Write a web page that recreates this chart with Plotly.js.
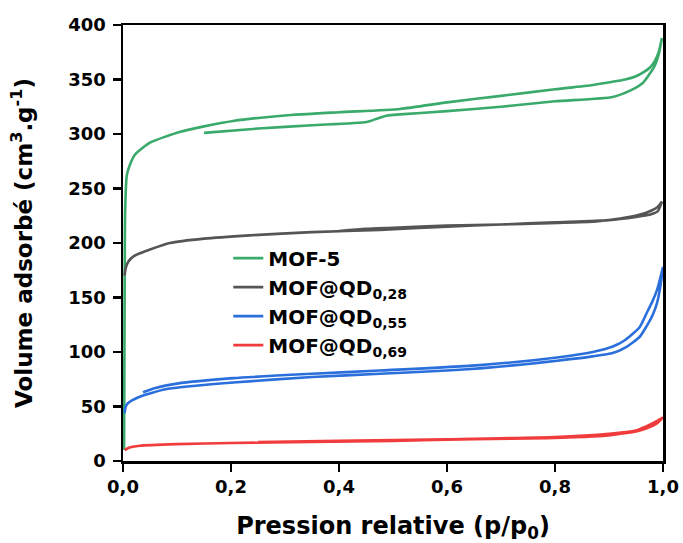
<!DOCTYPE html>
<html>
<head>
<meta charset="utf-8">
<script src="https://cdn.plot.ly/plotly-3.0.1.min.js"></script>
<style>html,body{margin:0;padding:0;background:#fff;}#chart{width:683px;height:543px;}</style>
</head>
<body>
<div id="chart"></div>
<script>
// Series names
const seriesNames = ["MOF-5", "MOF@QD<sub>0,28</sub>", "MOF@QD<sub>0,55</sub>", "MOF@QD<sub>0,69</sub>"];
const seriesColors = ["#3aaa6b", "#555555", "#2a6fdc", "#f03c3c"];

// MOF-5: adsorption (upper) then desorption (lower)
const mof5AdsX = [0.002,0.003,0.004,0.007,0.013,0.022,0.05,0.106,0.15,0.204,0.3,0.4,0.513,0.6,0.7,0.8,0.87,0.907,0.93,0.95,0.965,0.976,0.985,0.992,0.998];
const mof5AdsY = [10,150,230,262,272,281,292,302,307,312,317,320,323,329,335,341,345,348,350,353,357,361,367,375,388];
const mof5DesX = [0.998,0.992,0.985,0.975,0.963,0.94,0.907,0.8,0.7,0.6,0.513,0.49,0.47,0.451,0.35,0.25,0.15];
const mof5DesY = [388,373,363,355,347,340,334,330,325,321,318,317,314,311,308,305,301];

// MOF@QD0,28
const qd28AdsX = [0.003,0.005,0.01,0.02,0.05,0.087,0.15,0.235,0.35,0.476,0.6,0.7,0.846,0.9,0.939,0.97,0.99,0.998];
const qd28AdsY = [170,177,183,188,194,200,204,207,210,212,215,217,219,221,224,228,233,238];
const qd28DesX = [0.998,0.99,0.975,0.95,0.9,0.8,0.7,0.6,0.5,0.45,0.4];
const qd28DesY = [238,229,226,224,221,219,217,216,214,213,211];

// MOF@QD0,55
const qd55AdsX = [0.003,0.005,0.009,0.031,0.081,0.204,0.35,0.476,0.6,0.661,0.75,0.804,0.87,0.907,0.93,0.957,0.97,0.98,0.989,0.995,1.0];
const qd55AdsY = [44,50,53,59,66,72,77,80,83,85,89,92,96,99,104,114,124,133,145,160,178];
const qd55DesX = [1.0,0.995,0.989,0.98,0.97,0.957,0.93,0.907,0.87,0.804,0.661,0.476,0.35,0.204,0.1,0.06,0.037];
const qd55DesY = [178,168,157,146,136,123,111,105,100,95,88,83,80,76,71,67,63];

// MOF@QD0,69
const qd69AdsX = [0.003,0.01,0.031,0.1,0.2,0.35,0.5,0.65,0.785,0.87,0.907,0.95,0.97,0.99,1.0];
const qd69AdsY = [10,12,14,15.5,16.5,17.5,18.5,20,21,22.5,24,27,30,35,40];
const qd69DesX = [1.0,0.99,0.97,0.95,0.9,0.8,0.6,0.4,0.25];
const qd69DesY = [40,37,32,28,25,22,20,18.5,17.5];

// Tick values
const xTicks = [0,0.2,0.4,0.6,0.8,1.0];
const yTicks = [0,50,100,150,200,250,300,350,400];

const adsX = [mof5AdsX, qd28AdsX, qd55AdsX, qd69AdsX];
const adsY = [mof5AdsY, qd28AdsY, qd55AdsY, qd69AdsY];
const desX = [mof5DesX, qd28DesX, qd55DesX, qd69DesX];
const desY = [mof5DesY, qd28DesY, qd55DesY, qd69DesY];

const fontFam = '"DejaVu Sans", "Liberation Sans", Arial, sans-serif';

const traces = seriesNames.map((n, i) => ({
  type: 'scatter', mode: 'lines', name: n,
  x: adsX[i].concat(desX[i]),
  y: adsY[i].concat(desY[i]),
  line: {color: seriesColors[i], width: 2.6, shape: 'spline', smoothing: 0.6}
}));

const layout = {
  width: 683, height: 543,
  margin: {l: 123, r: 20, t: 25, b: 82},
  paper_bgcolor: '#fff', plot_bgcolor: '#fff',
  separators: ',.',
  showlegend: true,
  font: {family: fontFam, color: '#000'},
  legend: {
    x: 0.195, y: 0.51, xanchor: 'left', yanchor: 'top',
    bgcolor: 'rgba(0,0,0,0)', borderwidth: 0,
    font: {family: fontFam, size: 20, weight: 'bold', color: '#000'},
    tracegroupgap: 0
  },
  xaxis: {
    range: [0, 1], tickvals: xTicks, tickformat: '.1f',
    showline: true, linewidth: 2.5, linecolor: '#000', mirror: true,
    ticks: 'outside', ticklen: 8, tickwidth: 2.5, tickcolor: '#000',
    showgrid: false, zeroline: false,
    tickfont: {family: fontFam, size: 18, weight: 'bold', color: '#000'},
    title: {text: 'Pression relative (p/p<sub>0</sub>)', standoff: 24,
            font: {family: fontFam, size: 24, weight: 'bold', color: '#000'}}
  },
  yaxis: {
    range: [0, 400], tickvals: yTicks,
    showline: true, linewidth: 2.5, linecolor: '#000', mirror: true,
    ticks: 'outside', ticklen: 8, tickwidth: 2.5, tickcolor: '#000',
    ticklabelstandoff: 3,
    showgrid: false, zeroline: false,
    tickfont: {family: fontFam, size: 18, weight: 'bold', color: '#000'},
    title: {text: 'Volume adsorbé (cm<sup>3</sup>.g<sup>-1</sup>)', standoff: 30,
            font: {family: fontFam, size: 23, weight: 'bold', color: '#000'}}
  }
};

Plotly.newPlot('chart', traces, layout, {displayModeBar: false, staticPlot: true});
</script>
</body>
</html>
